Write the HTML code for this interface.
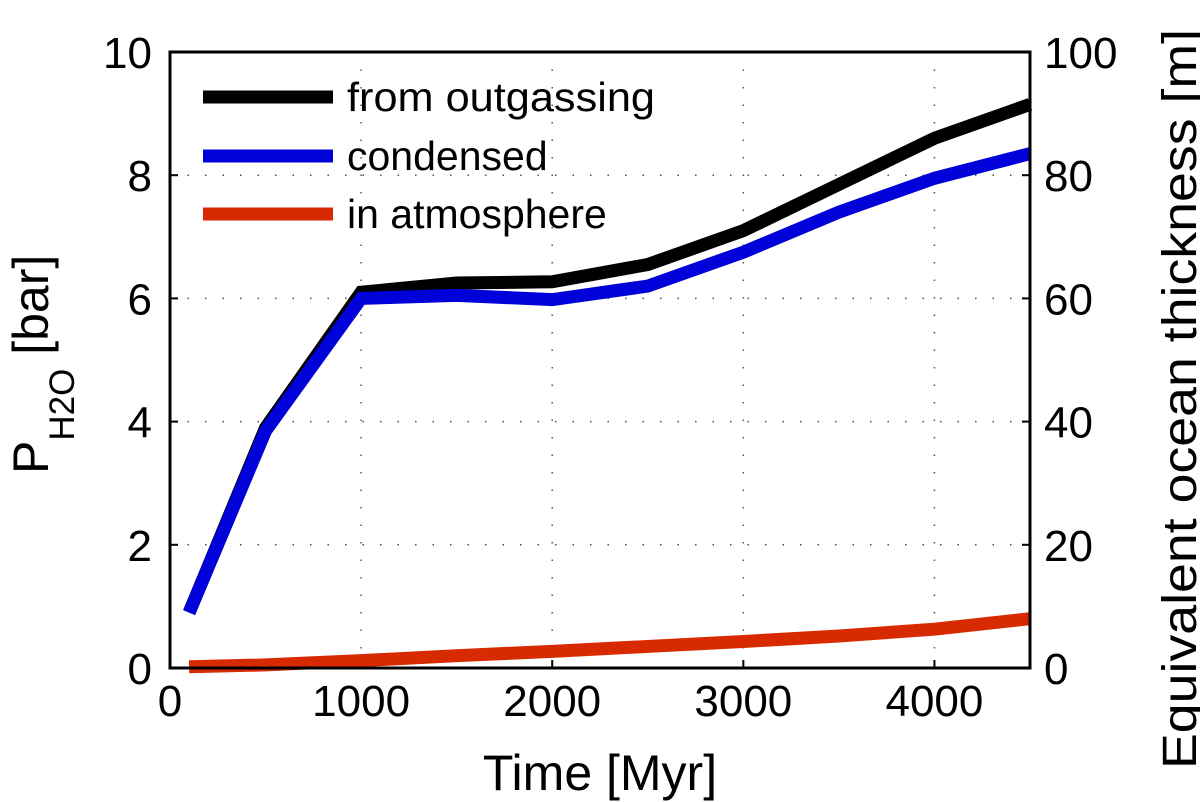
<!DOCTYPE html>
<html><head><meta charset="utf-8"><style>
body{margin:0;background:#fff}
svg{display:block;font-family:"Liberation Sans",Arial,sans-serif}
</style></head><body>
<svg id="chart" width="1200" height="802"></svg>
<script>
const years=[100,500,1000,1500,2000,2500,3000,3500,4000,4500];
const outgassing=[0.9,3.9,6.1,6.25,6.27,6.55,7.1,7.85,8.6,9.15];
const condensed=[0.9,3.85,6.0,6.05,5.98,6.2,6.75,7.4,7.95,8.35];
const atmosphere=[0.02,0.05,0.12,0.2,0.27,0.35,0.43,0.52,0.63,0.8];
const xTicks=[0,1000,2000,3000,4000];
const yTicks=[0,2,4,6,8,10];
const y2Ticks=[0,20,40,60,80,100];
const L=170,R=1030,T=52,B=668;
const xs=v=>L+(v/4500)*(R-L);
const ys=v=>B-(v/10)*(B-T);
const ys2=v=>B-(v/100)*(B-T);
const svg=document.getElementById('chart');
const NS='http://www.w3.org/2000/svg';
function mk(tag,attrs,parent){const e=document.createElementNS(NS,tag);for(const k in attrs)e.setAttribute(k,attrs[k]);(parent||svg).appendChild(e);return e;}
xTicks.forEach((t,i)=>{if(t>0){const g=mk('line',{x1:xs(t),x2:xs(t),y1:T,y2:B,stroke:'#555','stroke-width':1.5,'stroke-dasharray':'1.5 16'});

}
const k=mk('line',{x1:xs(t),x2:xs(t),y1:B,y2:B-8,stroke:'#000','stroke-width':2});


const lb=mk('text',{x:xs(t),y:716,'font-size':44,'text-anchor':'middle'});lb.textContent=t;

});
yTicks.forEach(t=>{if(t>0&&t<10){const g=mk('line',{x1:L,x2:R,y1:ys(t),y2:ys(t),stroke:'#555','stroke-width':1.5,'stroke-dasharray':'1.5 16'});

}
const k=mk('line',{x1:L,x2:L+8,y1:ys(t),y2:ys(t),stroke:'#000','stroke-width':2});


const lb=mk('text',{x:152,y:ys(t)+16,'font-size':44,'text-anchor':'end'});lb.textContent=t;

});
y2Ticks.forEach(t=>{const k=mk('line',{x1:R,x2:R-8,y1:ys2(t),y2:ys2(t),stroke:'#000','stroke-width':2});


const lb=mk('text',{x:1044,y:ys2(t)+16,'font-size':44});lb.textContent=t;

});
function series(vals,color,name){const p=mk('polyline',{points:years.map((y,i)=>xs(y)+','+ys(vals[i])).join(' '),fill:'none',stroke:color,'stroke-width':13,'stroke-linejoin':'miter'});

}
series(outgassing,'#000','line-outgassing');
series(condensed,'#0000d8','line-condensed');
series(atmosphere,'#d82a00','line-atmosphere');
const fr=mk('rect',{x:L,y:T,width:R-L,height:B-T,fill:'none',stroke:'#000','stroke-width':3});


[['from outgassing','#000',97],['condensed','#0000d8',156],['in atmosphere','#d82a00',214]].forEach(([t,c,y])=>{
const ln=mk('line',{x1:203,x2:333,y1:y,y2:y,stroke:c,'stroke-width':13});


const tx=mk('text',{x:347,y:y+14,'font-size':41,textLength:308,lengthAdjust:'spacingAndGlyphs'});tx.textContent=t;
if(t!=='from outgassing')tx.removeAttribute('textLength');

});
const xt=mk('text',{x:600,y:790,'font-size':50,'text-anchor':'middle'});xt.textContent='Time [Myr]';


const yt=mk('text',{transform:'translate(48,474) rotate(-90)','font-size':50});


yt.innerHTML='P<tspan font-size="35" dy="26">H2O</tspan><tspan dy="-26"> [bar]</tspan>';
const y2=mk('text',{transform:'translate(1196,399) rotate(-90)','font-size':48,'text-anchor':'middle',textLength:740,lengthAdjust:'spacingAndGlyphs'});y2.textContent='Equivalent ocean thickness [m]';


</script>
</body></html>
